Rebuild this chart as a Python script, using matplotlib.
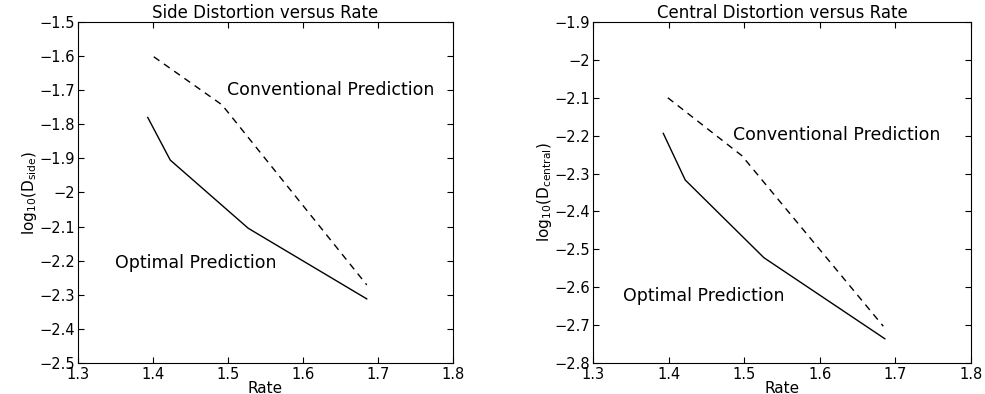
import numpy as np
import matplotlib
matplotlib.use("Agg")
import matplotlib.pyplot as plt
from matplotlib.ticker import FuncFormatter

# side distortion
side_opt_rate = [1.393, 1.423, 1.527, 1.685]
side_opt_val = [-1.78, -1.905, -2.105, -2.312]
side_conv_rate = [1.401, 1.492, 1.685]
side_conv_val = [-1.602, -1.743, -2.271]

# central distortion
cent_opt_rate = [1.393, 1.422, 1.526, 1.686]
cent_opt_val = [-2.194, -2.317, -2.522, -2.736]
cent_conv_rate = [1.399, 1.497, 1.684]
cent_conv_val = [-2.100, -2.253, -2.703]

plt.rcParams['font.family'] = ['DejaVu Sans']
plt.rcParams['mathtext.fontset'] = 'dejavusans'

fmt = FuncFormatter(lambda v, p: ("%g" % round(v, 2)).replace("-", "\u2212"))

fig = plt.figure(figsize=(9.85, 3.94), dpi=100)
ax1 = fig.add_axes([0.0792, 0.0787, 0.3807, 0.8655])
ax2 = fig.add_axes([0.602, 0.0787, 0.3838, 0.8655])


def setup(ax, title, ylabel, ylim):
    ax.set_xlim(1.3, 1.8)
    ax.set_ylim(*ylim)
    ax.set_xticks(np.arange(1.3, 1.81, 0.1))
    ax.set_yticks(np.arange(ylim[0], ylim[1] + 0.01, 0.1))
    ax.xaxis.set_major_formatter(fmt)
    ax.yaxis.set_major_formatter(fmt)
    ax.tick_params(direction='in', top=True, right=True, labelsize=10.5, length=4)
    ax.tick_params(axis='y', pad=2)
    ax.tick_params(axis='x', pad=3)
    ax.set_title(title, fontsize=12, pad=3)
    ax.set_xlabel("Rate", fontsize=11, labelpad=-1)
    ax.set_ylabel(ylabel, fontsize=11, labelpad=0)


ax1.plot(side_opt_rate, side_opt_val, 'k-', lw=1)
ax1.plot(side_conv_rate, side_conv_val, 'k--', lw=1, dashes=(5, 4))
ax1.text(1.499, -1.70, "Conventional Prediction", fontsize=12.5, va='center')
ax1.text(1.349, -2.207, "Optimal Prediction", fontsize=12.5, va='center')
setup(ax1, "Side Distortion versus Rate",
      r"$\mathrm{log}_{10}(\mathrm{D}_{\mathrm{side}})$", (-2.5, -1.5))

ax2.plot(cent_opt_rate, cent_opt_val, 'k-', lw=1)
ax2.plot(cent_conv_rate, cent_conv_val, 'k--', lw=1, dashes=(5, 4))
ax2.text(1.485, -2.197, "Conventional Prediction", fontsize=12.5, va='center')
ax2.text(1.340, -2.623, "Optimal Prediction", fontsize=12.5, va='center')
setup(ax2, "Central Distortion versus Rate",
      r"$\mathrm{log}_{10}(\mathrm{D}_{\mathrm{central}})$", (-2.8, -1.9))

fig.savefig("out.png", dpi=100)
